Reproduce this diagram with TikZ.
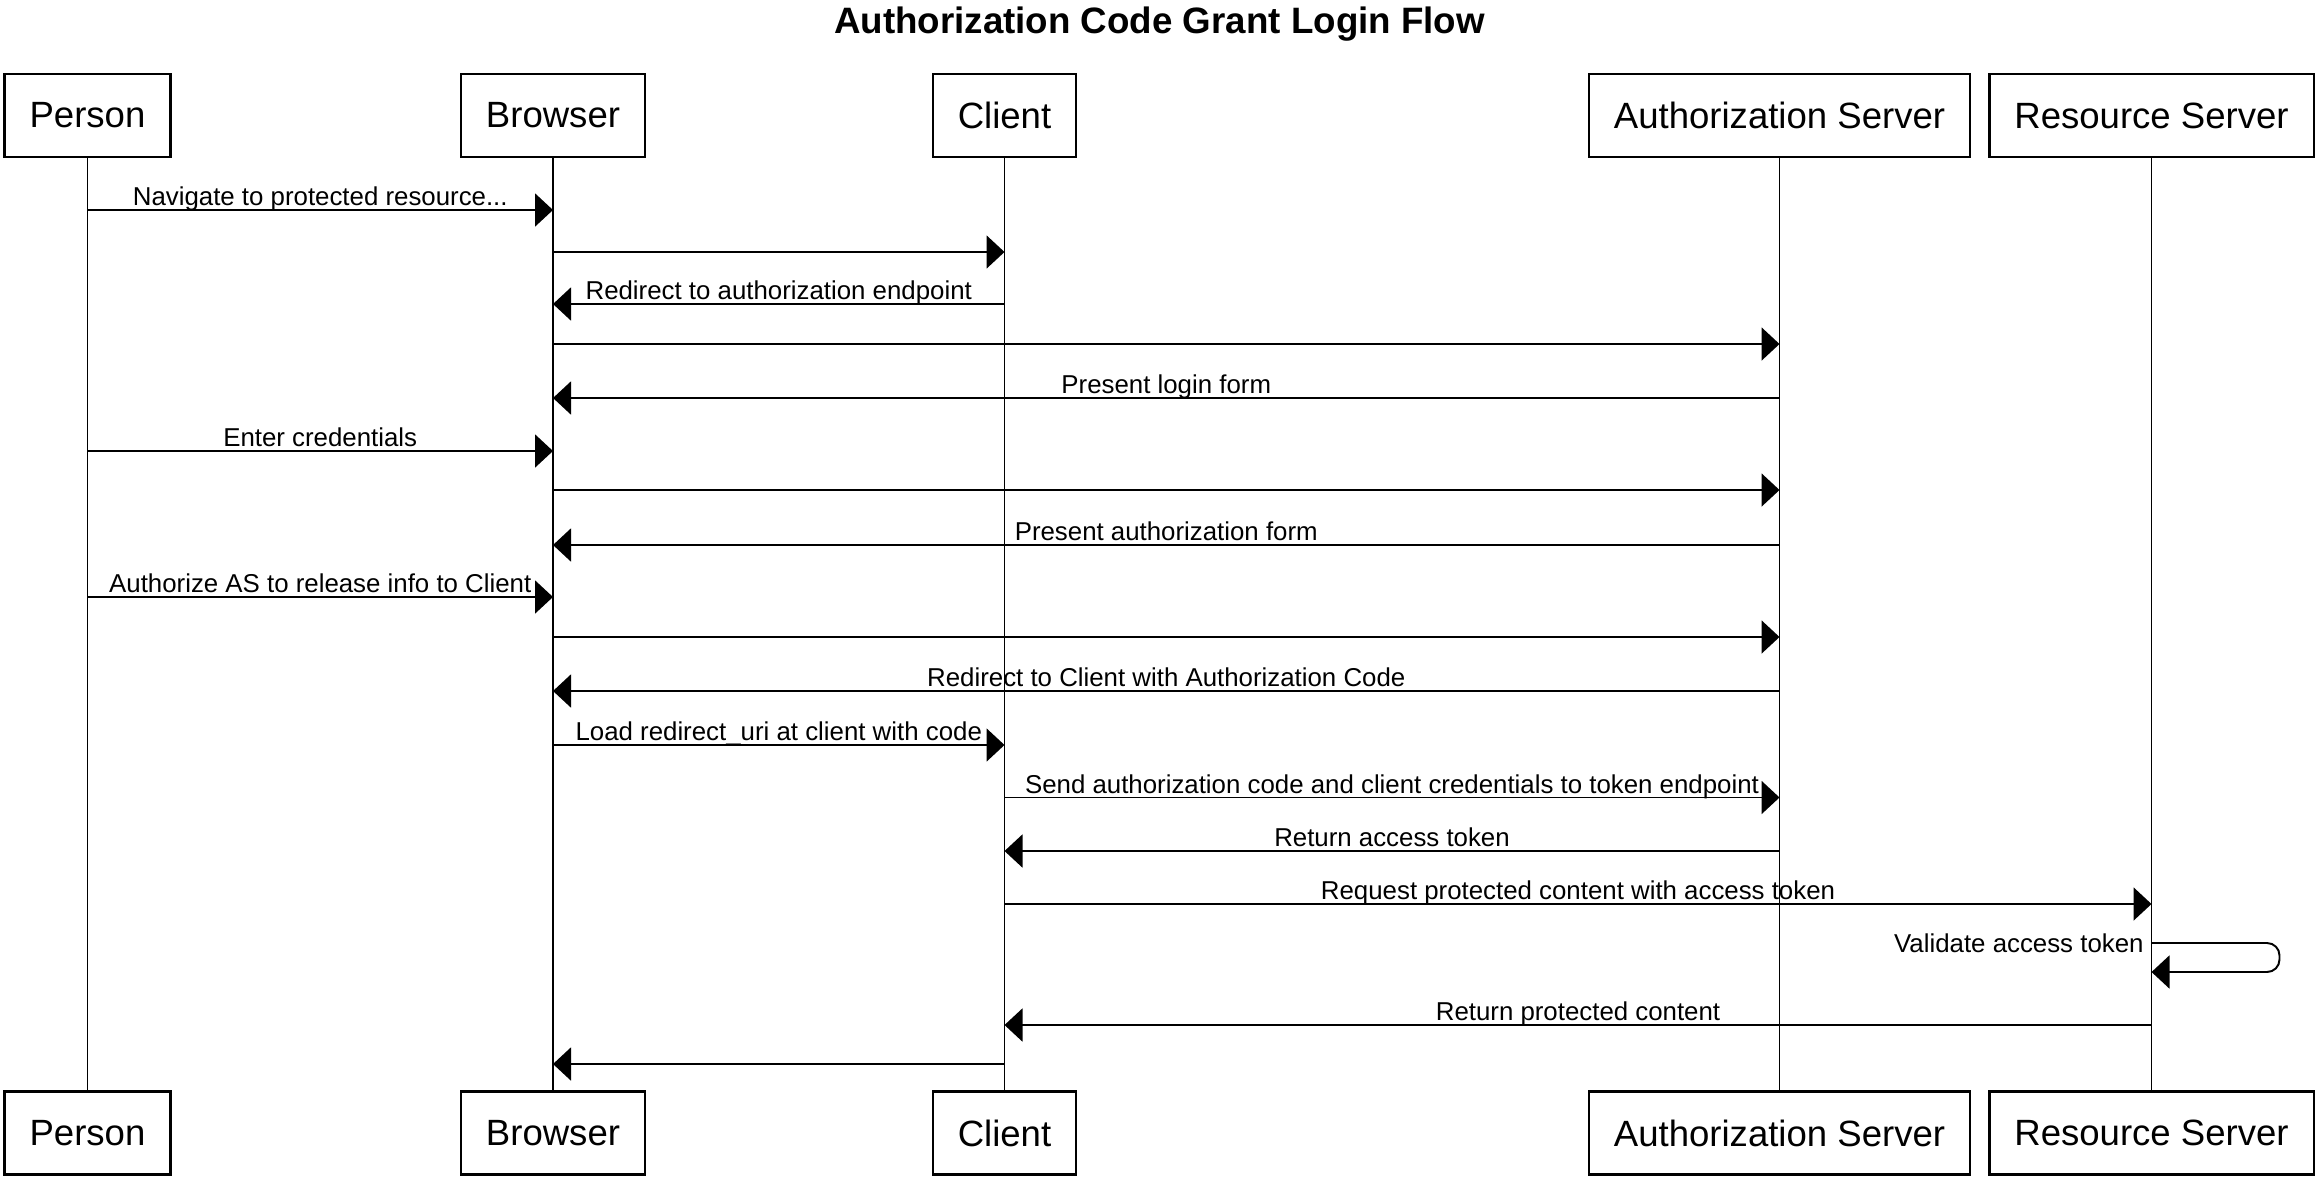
\documentclass[tikz,border=0pt]{standalone}
\usepackage{fontspec}
\setmainfont{Liberation Sans}
\usetikzlibrary{arrows.meta}
\tikzset{
  actor/.style={draw=black, line width=1.3pt, minimum height=1.66cm, inner xsep=0.5cm,
              font=\fontsize{20.8}{25}\selectfont},
  life/.style={line width=0.9pt},
  arr/.style={-{Triangle[length=0.36cm, width=0.66cm]}, line width=1.1pt},
  lbl/.style={inner sep=0pt, font=\fontsize{14.7}{17}\selectfont},
  msg/.style={lbl, midway, anchor=base, yshift=0.09cm},
}

\begin{document}
\begin{tikzpicture}
  \useasboundingbox (0,0) rectangle (46.42,-23.58);

  \node[anchor=base, font=\fontsize{20.9}{25}\selectfont\bfseries] (ttl) at (23.19,-0.66)
    {Authorization Code Grant Login Flow};

  % participants, top row and bottom row
  \node[actor] (pers)   at (1.75,-2.31)   {Person};
  \node[actor] (brow)   at (11.06,-2.31)  {Browser};
  \node[actor] (clnt)   at (20.09,-2.31)  {Client};
  \node[actor] (auth)   at (35.59,-2.31)  {Authorization Server};
  \node[actor] (rsrc)   at (43.03,-2.31)  {Resource Server};
  \node[actor] (pers-b) at (1.75,-22.66)  {Person};
  \node[actor] (brow-b) at (11.06,-22.66) {Browser};
  \node[actor] (clnt-b) at (20.09,-22.66) {Client};
  \node[actor] (auth-b) at (35.59,-22.66) {Authorization Server};
  \node[actor] (rsrc-b) at (43.03,-22.66) {Resource Server};

  % lifelines
  \draw[life] (pers) -- (pers-b);
  \draw[life] (brow) -- (brow-b);
  \draw[life] (clnt) -- (clnt-b);
  \draw[life] (auth) -- (auth-b);
  \draw[life] (rsrc) -- (rsrc-b);

  % messages
  \draw[arr] (pers |- 0,-4.20) -- (brow |- 0,-4.20) node[msg] (m1) {Navigate to protected resource...};
  \draw[arr] (brow |- 0,-5.04) -- (clnt |- 0,-5.04);
  \draw[arr] (clnt |- 0,-6.08) -- (brow |- 0,-6.08) node[msg] (m3) {Redirect to authorization endpoint};
  \draw[arr] (brow |- 0,-6.88) -- (auth |- 0,-6.88);
  \draw[arr] (auth |- 0,-7.96) -- (brow |- 0,-7.96) node[msg] (m5) {Present login form};
  \draw[arr] (pers |- 0,-9.02) -- (brow |- 0,-9.02) node[msg] (m6) {Enter credentials};
  \draw[arr] (brow |- 0,-9.80) -- (auth |- 0,-9.80);
  \draw[arr] (auth |- 0,-10.90) -- (brow |- 0,-10.90) node[msg] (m8) {Present authorization form};
  \draw[arr] (pers |- 0,-11.94) -- (brow |- 0,-11.94) node[msg] (m9) {Authorize AS to release info to Client};
  \draw[arr] (brow |- 0,-12.74) -- (auth |- 0,-12.74);
  \draw[arr] (auth |- 0,-13.82) -- (brow |- 0,-13.82) node[msg] (m11) {Redirect to Client with Authorization Code};
  \draw[arr] (brow |- 0,-14.90) -- (clnt |- 0,-14.90) node[msg] (m12) {Load redirect\_uri at client with code};
  \draw[arr] (clnt |- 0,-15.95) -- (auth |- 0,-15.95) node[msg] (m13) {Send authorization code and client credentials to token endpoint};
  \draw[arr] (auth |- 0,-17.02) -- (clnt |- 0,-17.02) node[msg] (m14) {Return access token};
  \draw[arr] (clnt |- 0,-18.08) -- (rsrc |- 0,-18.08) node[msg] (m15) {Request protected content with access token};
  \draw[arr, rounded corners=0.25cm] (rsrc |- 0,-18.86)
    node[lbl, anchor=mid east, xshift=-0.14cm, yshift=-0.09cm] (m16) {Validate access token}
    -- ++(2.56,0) |- (rsrc |- 0,-19.44);
  \draw[arr] (rsrc |- 0,-20.50) -- (clnt |- 0,-20.50) node[msg] (m17) {Return protected content};
  \draw[arr] (clnt |- 0,-21.28) -- (brow |- 0,-21.28);
\end{tikzpicture}
\end{document}
